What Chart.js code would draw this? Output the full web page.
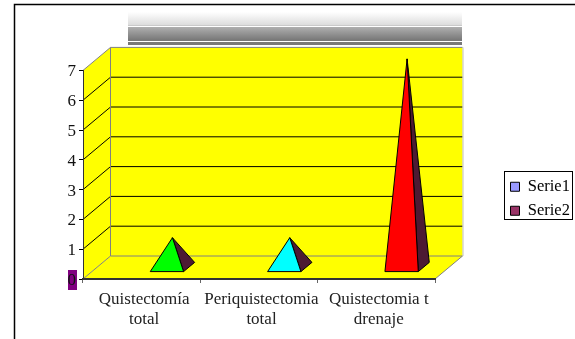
<!DOCTYPE html>
<html>
<head>
<meta charset="utf-8">
<title>Quistectomía</title>
<script src="https://cdn.jsdelivr.net/npm/chart.js@4/dist/chart.umd.min.js"></script>
<style>
  html, body { margin: 0; padding: 0; background: #fff; }
  canvas { display: block; }
</style>
</head>
<body>
<canvas id="chart" width="575" height="339"></canvas>
<script>
const categories = [['Quistectomía', 'total'], ['Periquistectomia', 'total'], ['Quistectomia t', 'drenaje']];
const serie1 = [0, 0, 0];
const serie2 = [1, 1, 7];
const yTicks = [0, 1, 2, 3, 4, 5, 6, 7];
const pyramidColors = ['#00ff00', '#00ffff', '#ff0000'];
const legendColors = ['#9999ff', '#993366'];

// depth of the 3D box, in pixels
const DEPTH_X = 27.5;
const DEPTH_Y = 23;
// the pyramids stand in the middle 40% of the floor depth
const BASE_FRONT = 0.3;
const BASE_BACK = 0.7;

const FONT = { family: '"Liberation Serif", serif', size: 17 };
const LEGEND_FONT = { family: '"Liberation Serif", serif', size: 16.5 };

function poly(ctx, points, fill, stroke, lineWidth) {
    ctx.beginPath();
    points.forEach((p, i) => i ? ctx.lineTo(p[0], p[1]) : ctx.moveTo(p[0], p[1]));
    ctx.closePath();
    if (fill) {
        ctx.fillStyle = fill;
        ctx.fill();
    }
    if (stroke) {
        ctx.strokeStyle = stroke;
        ctx.lineWidth = lineWidth || 1;
        ctx.stroke();
    }
}

// Page frame, banner and the yellow box behind the axes
const boxPlugin = {
    id: 'box',
    beforeDraw(chart) {
        const ctx = chart.ctx;
        const { left, right, top, bottom } = chart.chartArea;
        const y = chart.scales.y;
        ctx.save();

        // frame lines
        ctx.strokeStyle = '#000';
        ctx.lineWidth = 1.5;
        ctx.beginPath();
        ctx.moveTo(14.5, 339);
        ctx.lineTo(14.5, 4.5);
        ctx.lineTo(575, 4.5);
        ctx.stroke();

        // banner
        const g = ctx.createLinearGradient(0, 12, 0, 45);
        g.addColorStop(0, '#ffffff');
        g.addColorStop(0.4, '#dcdcdc');
        g.addColorStop(0.42, '#b4b4b4');
        g.addColorStop(0.85, '#787878');
        g.addColorStop(1, '#787878');
        ctx.fillStyle = g;
        ctx.fillRect(128, 12, 334, 33);
        ctx.fillStyle = '#fff';
        ctx.fillRect(128, 26, 334, 1);
        ctx.fillRect(128, 41, 334, 1);

        // patch behind the zero label
        ctx.fillStyle = '#800080';
        ctx.fillRect(68, 270, 9, 20);

        // floor, side wall and back wall
        const wallLeft = left + DEPTH_X;
        const wallRight = right + DEPTH_X;
        const wallTop = top - DEPTH_Y;
        const wallBottom = bottom - DEPTH_Y;
        poly(ctx, [[left, bottom], [wallLeft, wallBottom], [wallRight, wallBottom], [right, bottom]], '#ffff00');
        poly(ctx, [[left, top], [wallLeft, wallTop], [wallLeft, wallBottom], [left, bottom]], '#ffff00');
        ctx.fillStyle = '#ffff00';
        ctx.fillRect(wallLeft, wallTop, wallRight - wallLeft, wallBottom - wallTop);

        // gridlines across side wall and back wall
        ctx.strokeStyle = '#000';
        ctx.lineWidth = 1;
        yTicks.slice(1, -1).forEach(v => {
            const py = y.getPixelForValue(v);
            ctx.beginPath();
            ctx.moveTo(left, py);
            ctx.lineTo(wallLeft, py - DEPTH_Y);
            ctx.lineTo(wallRight, py - DEPTH_Y);
            ctx.stroke();
        });

        // box edges
        ctx.strokeStyle = '#808080';
        ctx.beginPath();
        ctx.moveTo(left, top);
        ctx.lineTo(wallLeft, wallTop);
        ctx.lineTo(wallRight, wallTop);
        ctx.moveTo(wallLeft, wallTop);
        ctx.lineTo(wallLeft, wallBottom);
        ctx.moveTo(left, bottom);
        ctx.lineTo(wallLeft, wallBottom);
        ctx.lineTo(wallRight, wallBottom);
        ctx.lineTo(right, bottom);
        ctx.stroke();
        ctx.strokeStyle = '#c0c0c0';
        ctx.beginPath();
        ctx.moveTo(wallRight + 0.5, wallTop);
        ctx.lineTo(wallRight + 0.5, wallBottom);
        ctx.stroke();
        ctx.restore();
    },
    // Bars are replaced by pyramids built from the bar elements' own geometry
    beforeDatasetsDraw(chart) {
        const ctx = chart.ctx;
        ctx.save();
        ctx.lineJoin = 'round';
        chart.data.datasets.forEach((ds, di) => {
            chart.getDatasetMeta(di).data.forEach((bar, i) => {
                if (!ds.data[i]) return;
                const half = bar.width / 2;
                const fx = BASE_FRONT * DEPTH_X, fy = BASE_FRONT * DEPTH_Y;
                const bx = BASE_BACK * DEPTH_X, by = BASE_BACK * DEPTH_Y;
                const frontLeft = [bar.x - half + fx, bar.base - fy];
                const frontRight = [bar.x + half + fx, bar.base - fy];
                const backRight = [bar.x + half + bx, bar.base - by];
                const apex = [bar.x + DEPTH_X / 2, bar.y - DEPTH_Y / 2];
                poly(ctx, [frontRight, backRight, apex], '#4d1a33', '#000');
                poly(ctx, [frontLeft, frontRight, apex], pyramidColors[i], '#000');
            });
        });
        ctx.restore();
        return false;
    },
    afterLayout(chart) {
        // legend sits at a fixed spot right of the box
        const lg = chart.legend;
        lg.left = 503;
        lg.right = 572.5;
        lg.top = 171;
        lg.bottom = 300;
    },
    afterDraw(chart) {
        const ctx = chart.ctx;
        ctx.save();
        ctx.strokeStyle = '#000';
        ctx.lineWidth = 1;
        ctx.strokeRect(504.5, 171.5, 68, 48);
        ctx.restore();
    }
};

new Chart(document.getElementById('chart'), {
    type: 'bar',
    data: {
        labels: categories,
        datasets: [
            { label: 'Serie1', data: serie1, backgroundColor: legendColors[0] },
            { label: 'Serie2', data: serie2, backgroundColor: legendColors[1] }
        ]
    },
    plugins: [boxPlugin],
    options: {
        responsive: false,
        animation: false,
        devicePixelRatio: 1,
        categoryPercentage: 0.58,
        barPercentage: 0.98,
        layout: {
            padding: { left: 0, top: 70.4, right: 0, bottom: 0 }
        },
        plugins: {
            title: { display: false },
            tooltip: { enabled: false },
            legend: {
                position: 'right',
                align: 'start',
                labels: {
                    font: LEGEND_FONT,
                    color: '#222',
                    boxWidth: 9,
                    boxHeight: 9,
                    padding: 7.5,
                    generateLabels() {
                        return ['Serie1', 'Serie2'].map((text, i) => ({
                            text: text,
                            fillStyle: legendColors[i],
                            strokeStyle: '#000',
                            lineWidth: 1,
                            datasetIndex: i
                        }));
                    }
                }
            }
        },
        scales: {
            x: {
                afterFit(scale) { scale.height = 60; },
                grid: { drawOnChartArea: false, tickLength: 4, color: '#666', offset: true },
                border: { color: '#333', width: 2 },
                ticks: { font: FONT, color: '#222', padding: 6, maxRotation: 0, autoSkip: false, labelOffset: 2.5 }
            },
            y: {
                min: 0,
                max: 7,
                afterFit(scale) { scale.width = 83; },
                grid: { drawOnChartArea: false, tickLength: 4, color: '#000' },
                border: { color: '#333', width: 1 },
                ticks: { font: FONT, color: '#111', padding: 3, stepSize: 1, labelOffset: 1.5 }
            }
        }
    }
});

// keep the plot's right edge where the legend column begins
const chart = Chart.getChart('chart');
chart.options.layout.padding.right = 140 - chart.legend.width;
chart.update();
</script>
</body>
</html>
